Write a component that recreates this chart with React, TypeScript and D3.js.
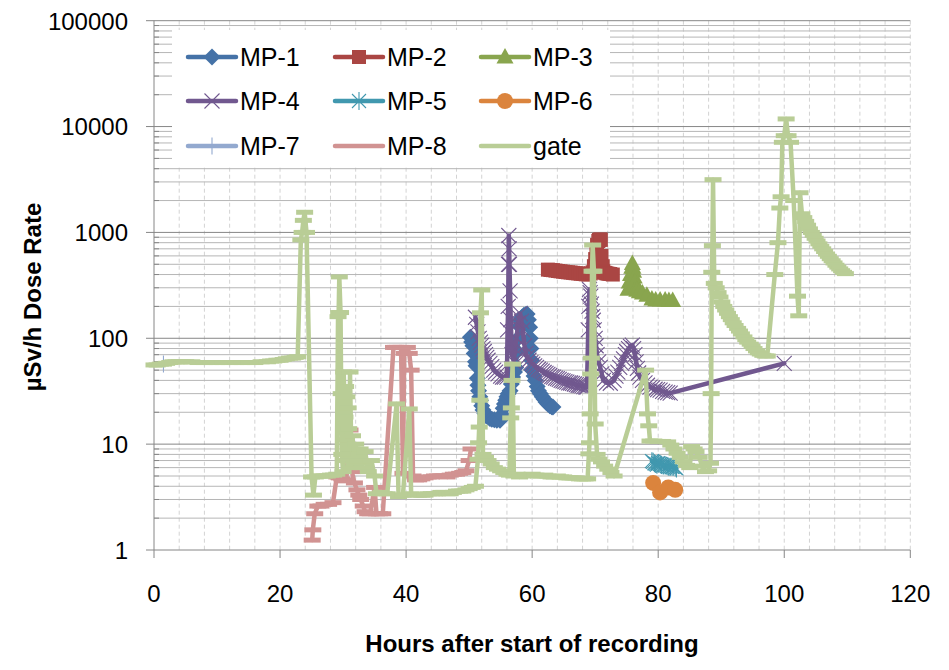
import { useEffect, useRef } from "react";
import * as d3 from "d3";

type Pt = [number, number];

// hours, µSv/h
const mp1: Pt[] = [
  [50.2, 102], [50.4, 92], [50.6, 85], [50.8, 72], [51.0, 60], [51.1, 55], [51.3, 42], [51.4, 36],
  [51.5, 32], [51.7, 28], [51.8, 26], [52.0, 23], [52.2, 21], [52.5, 19.5], [52.7, 18.5], [53.0, 18],
  [53.3, 17.5], [53.6, 17.2], [54.0, 17], [54.4, 16.8], [54.9, 16.8], [55.2, 19], [55.4, 21.8], [55.6, 24],
  [55.8, 26], [56.0, 28], [56.2, 30], [56.5, 32], [56.7, 37], [56.9, 43], [57.2, 48], [57.4, 53],
  [57.6, 75], [57.8, 100], [58.0, 130], [58.1, 148], [58.4, 158], [58.7, 165], [59.0, 168], [59.2, 170],
  [59.4, 150], [59.6, 127], [59.7, 100], [59.8, 80], [59.9, 62], [60.0, 50], [60.3, 44], [60.5, 40],
  [60.8, 35], [61.0, 32], [61.3, 30], [61.6, 28], [61.9, 26.5], [62.2, 25], [62.5, 24], [62.8, 23],
  [63.1, 22.6], [63.3, 22.4],
];
const mp2: Pt[] = [
  [62.5, 445], [62.9, 442], [63.3, 440], [63.7, 436], [64.1, 432], [64.5, 429], [64.9, 426], [65.3, 423],
  [65.7, 420], [66.1, 418], [66.5, 415], [66.9, 412], [67.3, 410], [67.7, 407], [68.1, 405], [68.5, 402],
  [68.9, 400], [69.3, 410], [69.6, 420], [69.8, 480], [70.0, 560], [70.2, 680], [70.3, 760], [70.5, 830],
  [70.6, 850], [70.8, 860], [70.9, 850], [71.0, 600], [71.2, 480], [71.3, 430], [71.6, 415], [71.8, 410],
  [72.1, 407], [72.4, 405], [72.8, 400],
];
const mp3: Pt[] = [
  [75.2, 290], [75.4, 340], [75.6, 400], [75.8, 470], [75.9, 510], [76.0, 470], [76.1, 430], [76.2, 380],
  [76.3, 340], [76.5, 300], [76.6, 285], [77.0, 275], [77.5, 268], [78.2, 255], [79.0, 235], [79.6, 230],
  [80.3, 230], [81.1, 230], [81.7, 228], [82.3, 228],
];
const mp4: Pt[] = [
  [51.0, 158], [51.2, 135], [51.4, 115], [51.6, 100], [51.8, 92], [52.0, 86], [52.2, 80], [52.4, 75],
  [52.6, 70], [52.8, 66], [53.0, 62], [53.3, 58], [53.6, 54], [53.9, 50], [54.2, 48], [54.6, 46],
  [55.0, 44], [55.3, 43], [55.6, 43], [56.0, 43], [56.1, 120], [56.2, 200], [56.25, 500], [56.3, 935],
  [56.35, 700], [56.4, 500], [56.5, 280], [56.6, 150], [56.8, 70], [57.1, 60], [57.3, 80], [57.5, 100],
  [57.8, 140], [58.1, 171], [58.3, 145], [58.5, 120], [58.8, 85], [59.0, 72], [59.2, 66], [59.5, 62],
  [59.8, 59], [60.1, 57], [60.4, 55], [60.7, 53], [61.0, 51], [61.3, 50], [61.6, 49], [61.9, 47.5],
  [62.2, 46.5], [62.5, 45.5], [62.8, 44.5], [63.1, 43.5], [63.4, 43], [63.7, 42], [64.0, 41.5], [64.3, 41],
  [64.6, 40], [64.9, 39.5], [65.2, 39], [65.5, 38.5], [65.8, 38], [66.1, 37.8], [66.4, 37.5], [66.7, 37],
  [67.0, 36.5], [67.3, 36], [67.6, 35.8], [67.9, 35.5], [68.2, 35], [68.5, 34.7], [68.7, 34.5],
  [68.9, 120], [69.0, 200], [69.1, 290], [69.2, 270], [69.3, 250], [69.4, 210], [69.5, 180], [69.6, 160],
  [69.7, 148], [69.85, 120], [70.0, 100], [70.15, 85], [70.3, 70], [70.55, 60], [70.8, 53], [71.05, 46],
  [71.3, 40], [71.8, 38], [72.4, 37.6], [73.0, 40], [73.3, 44], [73.6, 48], [73.9, 53], [74.2, 58],
  [74.5, 64], [74.8, 70], [75.0, 75], [75.3, 80], [75.6, 84], [75.9, 86], [76.1, 80], [76.3, 70],
  [76.5, 60], [76.7, 52], [76.9, 47], [77.1, 43], [77.5, 40], [77.9, 38], [78.3, 36], [78.7, 34.5],
  [79.1, 34], [79.5, 33], [79.9, 32.7], [80.3, 32.3], [80.7, 31.5], [81.1, 31], [81.5, 30.6], [81.9, 30.3],
  [100.0, 58],
];
const mp5: Pt[] = [
  [79.0, 6.9], [79.2, 6.8], [79.4, 6.6], [79.6, 6.5], [79.8, 6.4], [80.0, 6.6], [80.3, 6.5], [80.5, 6.4],
  [80.8, 6.3], [81.1, 6.3], [81.4, 6.2], [81.6, 6.1], [81.9, 6.1], [82.2, 6.1], [82.4, 6.1], [82.7, 6.0], [82.9, 5.9],
];
const mp6: Pt[] = [[79.2, 4.3], [80.3, 3.5], [81.6, 3.9], [82.7, 3.7]];
const mp7: Pt[] = [[1.5, 57]];
const mp8: Pt[] = [
  [25.1, 1.24], [25.2, 1.55], [25.5, 2.2], [26.0, 2.6], [26.5, 2.6], [27.0, 2.7], [27.7, 2.7], [28.4, 2.8],
  [29.0, 4.9], [29.4, 4.8], [29.8, 4.7], [30.2, 4.6], [30.5, 4.5], [30.8, 8], [31.1, 13.6], [31.4, 5.5],
  [31.8, 4.3], [32.2, 3.7], [32.5, 3.3], [32.8, 3.0], [33.2, 2.6], [33.5, 2.3], [33.9, 2.2], [34.3, 2.2],
  [35.0, 3.9], [35.3, 2.2], [35.8, 2.2], [36.3, 2.2], [38.0, 82], [38.3, 82], [38.6, 82], [39.2, 82],
  [39.5, 5.3], [39.7, 72], [40.2, 82], [40.5, 72], [40.8, 50], [41.1, 5], [41.5, 4.6], [42.0, 4.6],
  [42.5, 4.7], [43.0, 4.8], [43.5, 4.9], [44.0, 4.9], [44.5, 5], [45.0, 5], [45.5, 5], [46.0, 5],
  [46.5, 4.9], [47.0, 5.1], [47.5, 5.2], [48.0, 5.2], [48.5, 5.3], [49.0, 5.4], [49.5, 5.6], [50.0, 7],
  [50.3, 9],
];
const gate: Pt[] = [
  [0, 56], [0.5, 56], [1, 57], [1.5, 57], [2, 58], [2.5, 59], [3, 60], [3.5, 60], [4, 60], [4.5, 60],
  [5, 60], [6, 60], [7, 59], [8, 59], [9, 59], [10, 59], [11, 59], [12, 59], [13, 59], [14, 59], [15, 59],
  [16, 59], [17, 60], [18, 60], [18.5, 61], [19, 61], [19.5, 62], [20, 62], [20.5, 63], [21, 64],
  [21.5, 65], [22, 65], [22.4, 66], [22.8, 67],
  [23.3, 850], [23.5, 1000], [23.7, 1300], [23.9, 1550], [24.2, 1000],
  [25.0, 4.9], [25.3, 3.3], [25.6, 4.9], [26.0, 5], [26.5, 5], [27.0, 5], [27.5, 5], [28.0, 5.1],
  [28.5, 5.1], [29.0, 5.2],
  [29.2, 160], [29.3, 175], [29.4, 380], [29.6, 175], [29.7, 30], [29.8, 8], [30.0, 5.5], [30.1, 48],
  [30.3, 18], [30.4, 35], [30.5, 11], [30.6, 28], [30.7, 7], [30.8, 22], [30.9, 14], [31.0, 6], [31.1, 48],
  [31.3, 9], [31.5, 12], [31.7, 6.5], [32.0, 10], [32.3, 7], [32.7, 9], [33.0, 6], [33.5, 8.5], [34.0, 5.5],
  [34.5, 7], [35.0, 5], [35.3, 3.4], [36.0, 3.5], [36.5, 3.4], [37.0, 3.4],
  [38.5, 24], [38.8, 3.2], [39.2, 3.3], [39.5, 3.3], [40.5, 21.5], [40.8, 3.4], [41.5, 3.3], [42, 3.3],
  [42.5, 3.3], [43, 3.3], [43.5, 3.4], [44, 3.4], [44.5, 3.4], [45, 3.4], [45.5, 3.5], [46, 3.5],
  [46.5, 3.4], [47, 3.4], [47.5, 3.5], [48, 3.6], [48.5, 3.6], [49, 3.6], [49.5, 3.7], [50, 3.8],
  [50.5, 3.9], [51.0, 4.0],
  [51.4, 7.2], [51.5, 10.3], [51.6, 14.5], [51.7, 26], [51.8, 174], [52.0, 286], [52.2, 8], [52.6, 7.5],
  [53.0, 7], [53.5, 6.5], [54, 6], [54.5, 5.8], [55, 5.6], [55.5, 5.4], [56, 5.2], [56.4, 5.1],
  [56.6, 17.7], [56.7, 22], [56.8, 40], [56.9, 57], [57.1, 5], [57.6, 5.2], [58, 4.9], [58.5, 5],
  [59, 5.1], [59.5, 5.1], [60, 5.2], [60.5, 5.1], [61, 5], [61.5, 5], [62, 5.1], [62.5, 5], [63, 4.9],
  [63.5, 4.9], [64, 5], [64.5, 4.9], [65, 4.9], [65.5, 4.8], [66, 4.8], [66.5, 4.8], [67, 4.8],
  [67.5, 4.7], [68, 4.7], [68.4, 4.7], [68.8, 4.7],
  [69.0, 8.1], [69.1, 10.3], [69.2, 19.3], [69.3, 46], [69.4, 65], [69.5, 430], [69.6, 760], [69.8, 430],
  [70.0, 15.5], [70.3, 8], [70.6, 7.2], [71, 6.8], [71.5, 6.2], [72, 5.8], [72.5, 5.4], [73, 5.0],
  [78.0, 50], [78.3, 19.3], [78.5, 14.9], [78.7, 10.7], [79.3, 10.7], [80, 10.6], [80.7, 10.6], [81.5, 10.5],
  [82.0, 9.8], [82.5, 9], [83.0, 8.2], [83.5, 7.5], [84.0, 6.8], [84.5, 6.3], [85.0, 6.0], [85.3, 9.5],
  [85.7, 9], [86, 8.5], [86.5, 7.5], [87.0, 6.2], [87.5, 5.5], [88.0, 5.6],
  [88.3, 6.6], [88.4, 30], [88.5, 420], [88.6, 750], [88.7, 3150],
  [88.9, 330], [89.2, 300], [89.5, 270], [89.8, 245], [90.1, 220], [90.4, 200], [90.7, 185], [91.0, 172],
  [91.3, 160], [91.6, 150], [91.9, 140], [92.2, 132], [92.6, 124], [92.9, 117], [93.2, 110], [93.6, 103],
  [93.9, 97], [94.2, 92], [94.6, 88], [94.9, 84], [95.2, 80], [95.6, 76], [95.9, 73], [96.2, 71],
  [96.6, 69], [97.0, 68], [97.3, 68],
  [98.5, 400], [99.0, 800], [99.3, 1700], [99.5, 2170], [99.7, 7100], [100.0, 8200], [100.3, 11800],
  [100.6, 8200], [101.0, 7100], [101.5, 2000], [102.1, 250], [102.3, 163], [102.5, 2370],
  [102.8, 1500], [103.1, 1380], [103.4, 1270], [103.7, 1170], [104.0, 1080], [104.3, 1000], [104.6, 940],
  [104.9, 880], [105.2, 830], [105.5, 780], [105.8, 740], [106.1, 700], [106.4, 660], [106.7, 625],
  [107.0, 595], [107.3, 565], [107.6, 540], [107.9, 515], [108.2, 490], [108.5, 470], [108.8, 452],
  [109.1, 435], [109.4, 420], [109.7, 408],
];

const seriesNames = ["MP-1", "MP-2", "MP-3", "MP-4", "MP-5", "MP-6", "MP-7", "MP-8", "gate"];
const seriesData = [mp1, mp2, mp3, mp4, mp5, mp6, mp7, mp8, gate];
const seriesColors = ["#4572A7", "#AA4643", "#89A54E", "#71588F", "#4198AF", "#DB843D", "#93A9CF", "#D19392", "#B9CD96"];
const seriesMarkers = ["diamond", "square", "triangle", "x", "asterisk", "circle", "plus", "dash", "dash"];

const xTicks = [0, 20, 40, 60, 80, 100, 120];
const yTicks = [1, 10, 100, 1000, 10000, 100000];

const W = 949;
const H = 670;

const markerPaths: Record<string, { d: string; filled: boolean }> = {
  diamond: { d: "M0,-8.5L8.5,0L0,8.5L-8.5,0Z", filled: true },
  square: { d: "M-7,-7H7V7H-7Z", filled: true },
  triangle: { d: "M0,-9L8.5,6.5H-8.5Z", filled: true },
  x: { d: "M-7.5,-7.5L7.5,7.5M-7.5,7.5L7.5,-7.5", filled: false },
  asterisk: { d: "M-7,-7L7,7M-7,7L7,-7M0,-9V9", filled: false },
  plus: { d: "M-8,0H8M0,-8.5V8.5", filled: false },
  dash: { d: "M-8.5,-2.5H8.5V2.5H-8.5Z", filled: true },
};

function drawMarker(g: any, kind: string, color: string, cx: number, cy: number) {
  if (kind === "circle") {
    g.append("circle").attr("cx", cx).attr("cy", cy).attr("r", 8).attr("fill", color);
    return;
  }
  const m = markerPaths[kind];
  g.append("path")
    .attr("d", m.d)
    .attr("transform", `translate(${cx},${cy})`)
    .attr("fill", m.filled ? color : "none")
    .attr("stroke", m.filled ? "none" : color)
    .attr("stroke-width", 1.1);
}

const App = () => {
  const svgRef = useRef<SVGSVGElement | null>(null);

  useEffect(() => {
    const svg = d3.select(svgRef.current);
    svg.selectAll("*").remove();

    const x = d3.scaleLinear().domain([0, 120]).range([154, 910.3]);
    const y = d3.scaleLog().domain([1, 100000]).range([550, 20.7]);

    svg.append("rect").attr("width", W).attr("height", H).attr("fill", "#fff");

    // vertical dashed gridlines every 4 h
    const grid = svg.append("g");
    d3.range(4, 121, 4).forEach((h) => {
      grid.append("line")
        .attr("x1", x(h)).attr("x2", x(h))
        .attr("y1", y(100000)).attr("y2", y(1))
        .attr("stroke", "#D3D3D3")
        .attr("stroke-dasharray", "4,3");
    });

    // horizontal gridlines, minors then majors
    for (let d = 0; d < 5; d++) {
      for (let k = 2; k <= 9; k++) {
        const v = k * Math.pow(10, d);
        grid.append("line")
          .attr("x1", x(0)).attr("x2", x(120))
          .attr("y1", y(v)).attr("y2", y(v))
          .attr("stroke", "#B6B6B6");
      }
    }
    yTicks.slice(1).forEach((v) => {
      grid.append("line")
        .attr("x1", x(0)).attr("x2", x(120))
        .attr("y1", y(v)).attr("y2", y(v))
        .attr("stroke", "#878787");
    });

    // axes
    const ax = svg.append("g").attr("stroke", "#868686");
    ax.append("line").attr("x1", x(0)).attr("x2", x(0)).attr("y1", y(100000)).attr("y2", y(1));
    ax.append("line").attr("x1", x(0)).attr("x2", x(120)).attr("y1", y(1)).attr("y2", y(1));
    yTicks.forEach((v) => {
      ax.append("line").attr("x1", x(0) - 8).attr("x2", x(0)).attr("y1", y(v)).attr("y2", y(v));
    });
    for (let d = 0; d < 5; d++) {
      for (let k = 2; k <= 9; k++) {
        const v = k * Math.pow(10, d);
        ax.append("line").attr("x1", x(0)).attr("x2", x(0) + 5).attr("y1", y(v)).attr("y2", y(v));
      }
    }
    xTicks.forEach((h) => {
      ax.append("line").attr("x1", x(h)).attr("x2", x(h)).attr("y1", y(1)).attr("y2", y(1) + 8);
    });

    const font = "'Liberation Sans', Arial, sans-serif";
    yTicks.forEach((v) => {
      svg.append("text")
        .attr("x", 128).attr("y", y(v) + 8.8)
        .attr("text-anchor", "end")
        .attr("font-family", font).attr("font-size", 24)
        .text(String(v));
    });
    xTicks.forEach((h) => {
      svg.append("text")
        .attr("x", x(h)).attr("y", 602)
        .attr("text-anchor", "middle")
        .attr("font-family", font).attr("font-size", 24)
        .text(String(h));
    });

    svg.append("text")
      .attr("x", 532).attr("y", 652)
      .attr("text-anchor", "middle")
      .attr("font-family", font).attr("font-size", 24).attr("font-weight", "bold")
      .text("Hours after start of recording");

    svg.append("text")
      .attr("transform", "translate(41,297) rotate(-90)")
      .attr("text-anchor", "middle")
      .attr("font-family", font).attr("font-size", 24).attr("font-weight", "bold")
      .text("µSv/h Dose Rate");

    // series
    const line = d3.line<Pt>().x((d) => x(d[0])).y((d) => y(d[1]));
    seriesData.forEach((data, i) => {
      const g = svg.append("g");
      const color = seriesColors[i];
      if (data.length > 1) {
        g.append("path")
          .attr("d", line(data))
          .attr("fill", "none")
          .attr("stroke", color)
          .attr("stroke-width", 4.5)
          .attr("stroke-linejoin", "round")
          .attr("stroke-linecap", "round");
      }
      data.forEach((d) => drawMarker(g, seriesMarkers[i], color, x(d[0]), y(d[1])));
    });

    // legend
    const lg = svg.append("g");
    lg.append("rect").attr("x", 172).attr("y", 30).attr("width", 438).attr("height", 137).attr("fill", "#fff");
    const colX = [188, 335, 481];
    const rowY = [57, 101, 146];
    seriesNames.forEach((name, i) => {
      const cx = colX[i % 3];
      const cy = rowY[Math.floor(i / 3)];
      const color = seriesColors[i];
      lg.append("line")
        .attr("x1", cx).attr("x2", cx + 48)
        .attr("y1", cy).attr("y2", cy)
        .attr("stroke", color).attr("stroke-width", 4.5)
        .attr("stroke-linecap", "round");
      if (seriesMarkers[i] !== "dash") drawMarker(lg, seriesMarkers[i], color, cx + 24, cy);
      lg.append("text")
        .attr("x", cx + 52).attr("y", cy + 8.5)
        .attr("font-family", font).attr("font-size", 25)
        .text(name);
    });
  }, []);

  return (
    <div style={{ position: "absolute", left: 0, top: 0, width: W, height: H }}>
      <svg ref={svgRef} width={W} height={H}></svg>
    </div>
  );
};

export default App;
